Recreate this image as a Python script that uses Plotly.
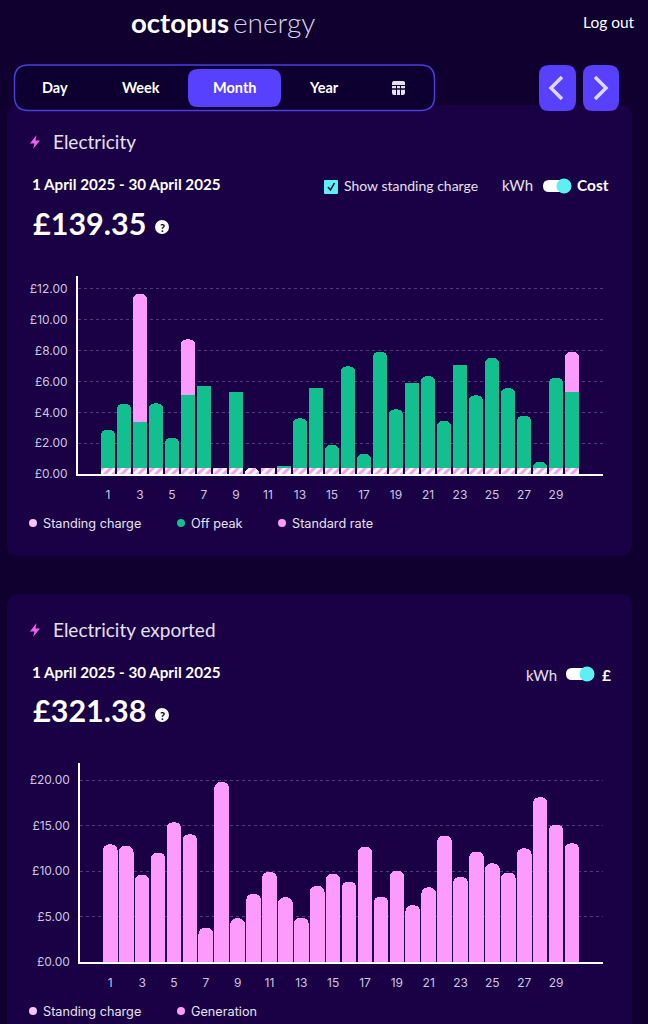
import plotly.graph_objects as go

W = 648
H = 1024

days = list(range(1, 31))
day_ticks = list(range(1, 30, 2))

# electricity cost, pounds per day
standing_charge = [0.39] * 30
off_peak = [2.49, 4.17, 2.96, 4.19, 1.97, 4.71, 5.30, 0, 4.95, 0,
            0, 0.15, 3.22, 5.19, 1.49, 6.59, 0.91, 7.55, 3.80, 5.53,
            5.95, 3.05, 6.66, 4.71, 7.13, 5.17, 3.39, 0.39, 5.86, 4.93]
standard_rate = [0, 0, 8.33, 0, 0, 3.63, 0, 0, 0, 0,
                 0, 0, 0, 0, 0, 0, 0, 0, 0, 0,
                 0, 0, 0, 0, 0, 0, 0, 0, 0, 2.59]
cost_ticks = [0, 2, 4, 6, 8, 10, 12]
cost_labels = ['£0.00', '£2.00', '£4.00', '£6.00', '£8.00', '£10.00', '£12.00']

# export, pounds per day
generation = [12.93, 12.75, 9.56, 12.00, 15.35, 14.03, 3.77, 19.78, 4.80, 7.47,
              9.89, 7.11, 4.87, 8.35, 9.67, 8.83, 12.64, 7.18, 10.00, 6.23,
              8.20, 13.88, 9.34, 12.12, 10.84, 9.82, 12.49, 18.10, 15.09, 13.04]
export_ticks = [0, 5, 10, 15, 20]
export_labels = ['£0.00', '£5.00', '£10.00', '£15.00', '£20.00']

# these days have square tops in the app, the rest are rounded
square_days = [7, 8, 9, 11, 12, 14, 20, 23]

PAGE = '#100030'
CARD = '#1a0044'
GREEN = '#12c08f'
PINK = '#fd9bfd'
WHITE = '#ffffff'
SOFT = '#e6e0f0'
TICK = '#cfc6e2'
CYAN = '#5cf0f5'
BLUE = '#5840ff'
FONT = 'Lato'
CHART_FONT = 'Inter'
RADIUS = 6


def px(x):
    return x / W


def py(y):
    return 1 - y / H


def rrect(x0, y0, x1, y1, r):
    return (f'M{px(x0 + r)},{py(y0)} L{px(x1 - r)},{py(y0)} Q{px(x1)},{py(y0)} {px(x1)},{py(y0 + r)} '
            f'L{px(x1)},{py(y1 - r)} Q{px(x1)},{py(y1)} {px(x1 - r)},{py(y1)} '
            f'L{px(x0 + r)},{py(y1)} Q{px(x0)},{py(y1)} {px(x0)},{py(y1 - r)} '
            f'L{px(x0)},{py(y0 + r)} Q{px(x0)},{py(y0)} {px(x0 + r)},{py(y0)} Z')


def box(x0, y0, x1, y1, r, fill, line=None, width=0):
    return dict(type='path', xref='paper', yref='paper', path=rrect(x0, y0, x1, y1, r), fillcolor=fill,
                line=dict(color=line or fill, width=width), layer='below')


def poly(points, fill=None, line=None, width=0, close=True):
    d = ' '.join(('M' if i == 0 else 'L') + f'{px(a)},{py(b)}' for i, (a, b) in enumerate(points))
    if close:
        d += ' Z'
    return dict(type='path', xref='paper', yref='paper', path=d, fillcolor=fill or 'rgba(0,0,0,0)',
                line=dict(color=line or 'rgba(0,0,0,0)', width=width), layer='above')


def dot(x, y, r, fill):
    return dict(type='circle', xref='paper', yref='paper', x0=px(x - r), x1=px(x + r), y0=py(y + r), y1=py(y - r),
                fillcolor=fill, line=dict(width=0), layer='above')


def txt(x, y, text, size, color=WHITE, anchor='left', weight=400, font=FONT):
    return dict(x=px(x), y=py(y), xref='paper', yref='paper', text=text, showarrow=False, xanchor=anchor,
                yanchor='middle', borderpad=0, font=dict(family=font, size=size, color=color, weight=weight))


def bolt(x, y):
    pts = [(x + 1.5, y - 7), (x - 5, y + 1.5), (x - 0.5, y + 1.5), (x - 2, y + 7), (x + 5, y - 1.5), (x + 0.5, y - 1.5)]
    return poly(pts, fill='#f060f0')


def toggle(x0, y):
    return [box(x0, y - 6, x0 + 28, y + 6, 6, WHITE), dot(x0 + 21, y, 7.5, CYAN)]


def keep(values, wanted):
    return [v if wanted(d) and v else None for d, v in zip(days, values)]


def is_square(d):
    return d in square_days


def is_round(d):
    return d not in square_days


fig = go.Figure()

hatch = dict(shape='/', fillmode='overlay', fgcolor='#ffffff', fgopacity=1, size=6, solidity=0.5)

# plotly uses one corner radius per stack, so the square topped days get their own overlaid axes
fig.add_bar(x=days, y=keep(standing_charge, is_round), name='Standing charge',
            marker=dict(color='#f29ff4', pattern=hatch, cornerradius=RADIUS, line_width=0))
fig.add_bar(x=days, y=keep(off_peak, is_round), name='Off peak', marker=dict(color=GREEN, line_width=0))
fig.add_bar(x=days, y=keep(standard_rate, is_round), name='Standard rate', marker=dict(color=PINK, line_width=0))
fig.add_bar(x=days, y=keep(standing_charge, is_square), name='Standing charge', xaxis='x3', yaxis='y3',
            marker=dict(color='#f29ff4', pattern=hatch, cornerradius=0, line_width=0))
fig.add_bar(x=days, y=keep(off_peak, is_square), name='Off peak', xaxis='x3', yaxis='y3',
            marker=dict(color=GREEN, line_width=0))
fig.add_bar(x=days, y=generation, name='Generation', xaxis='x2', yaxis='y2',
            marker=dict(color=PINK, cornerradius=RADIUS, line_width=0))

shapes = [
    box(7, 105, 632, 556, 12, CARD),
    box(7, 594, 632, 1040, 12, CARD),
    box(14.5, 65, 434.5, 110.5, 14, '#0d0030', '#4a3ee0', 1.5),
    box(188, 69, 281, 107, 10, BLUE),
    box(539, 65, 576, 111, 10, BLUE),
    box(583, 65, 619, 111, 10, BLUE),
    poly([(562, 77), (551, 88), (562, 99)], line='#dcd8ff', width=3.5, close=False),
    poly([(595, 77), (606, 88), (595, 99)], line='#dcd8ff', width=3.5, close=False),
    box(392, 81, 405, 95, 2, SOFT),
    poly([(392, 85.5), (405, 85.5)], line='#0d0030', width=1),
    poly([(392, 89), (405, 89)], line='#0d0030', width=1),
    poly([(396.5, 85.5), (396.5, 95)], line='#0d0030', width=1),
    poly([(400.5, 85.5), (400.5, 95)], line='#0d0030', width=1),
    bolt(35, 142),
    bolt(35, 630),
    box(324, 180, 338, 194, 1, CYAN),
    poly([(328, 187), (330.5, 190), (334.5, 183)], line='#100030', width=1.5, close=False),
    dot(162, 227, 7, WHITE),
    dot(162, 715, 7, WHITE),
    dot(33, 523, 4, '#f6c4f6'),
    dot(181, 523, 4, GREEN),
    dot(282, 523, 4, PINK),
    dot(33, 1011, 4, '#f6c4f6'),
    dot(181, 1011, 4, PINK),
] + toggle(543, 186) + toggle(566, 674)

notes = [
    txt(130, 22, 'octopus', 27.5, WHITE, weight=700),
    txt(232, 22, 'energy', 28, '#d8d4e8', weight=300),
    txt(636, 22, 'Log out', 15.5, WHITE, 'right'),
    txt(55, 87, 'Day', 14.5, WHITE, 'center', 700),
    txt(141, 87, 'Week', 14.5, WHITE, 'center', 700),
    txt(234.5, 87, 'Month', 14.5, WHITE, 'center', 700),
    txt(324, 87, 'Year', 14.5, WHITE, 'center', 700),
    txt(52, 141, 'Electricity', 19, SOFT),
    txt(31, 184, '1 April 2025 - 30 April 2025', 15.2, WHITE, weight=700),
    txt(32, 223, '£139.35', 30.5, WHITE, weight=700),
    txt(162, 227, '?', 11, PAGE, 'center', 900),
    txt(343, 185, 'Show standing charge', 14, SOFT),
    txt(501, 185, 'kWh', 15, SOFT),
    txt(576, 185, 'Cost', 15.5, WHITE, weight=700),
    txt(42, 523, 'Standing charge', 12.7, SOFT, font=CHART_FONT),
    txt(190, 523, 'Off peak', 12.7, SOFT, font=CHART_FONT),
    txt(291, 523, 'Standard rate', 12.7, SOFT, font=CHART_FONT),
    txt(52, 629, 'Electricity exported', 19, SOFT),
    txt(31, 672, '1 April 2025 - 30 April 2025', 15.2, WHITE, weight=700),
    txt(32, 710, '£321.38', 30.5, WHITE, weight=700),
    txt(162, 715, '?', 11, PAGE, 'center', 900),
    txt(525, 675, 'kWh', 15, SOFT),
    txt(601, 675, '£', 15.5, WHITE, weight=700),
    txt(42, 1011, 'Standing charge', 12.7, SOFT, font=CHART_FONT),
    txt(190, 1011, 'Generation', 12.7, SOFT, font=CHART_FONT),
]

tick_font = dict(family=CHART_FONT, size=12, color=TICK)
x_style = dict(tickmode='array', tickvals=day_ticks, ticks='outside', ticklen=9, tickcolor='rgba(0,0,0,0)',
               showgrid=False, showline=True, linecolor=WHITE, linewidth=2, tickfont=tick_font, zeroline=False)
y_style = dict(tickmode='array', ticks='outside', ticklen=6, tickcolor='rgba(0,0,0,0)', showgrid=True,
               gridcolor='#51397f', griddash='dot', gridwidth=1, showline=True, linecolor=WHITE, linewidth=2,
               tickfont=tick_font, zeroline=False)

fig.update_layout(
    width=W, height=H, autosize=False, margin=dict(l=0, r=0, t=0, b=0, pad=0, autoexpand=False), showlegend=False,
    paper_bgcolor=PAGE, plot_bgcolor='rgba(0,0,0,0)', barmode='stack', bargap=0.08,
    shapes=shapes, annotations=notes, hovermode=False,
    xaxis=dict(domain=[px(78), px(603)], range=[-0.875, 31.94], anchor='y', **x_style),
    yaxis=dict(domain=[py(474), py(276)], range=[0, 12.84], anchor='x', tickvals=cost_ticks,
               ticktext=cost_labels, **y_style),
    xaxis2=dict(domain=[px(80.3), px(603)], range=[-0.884, 31.95], anchor='y2', **x_style),
    yaxis2=dict(domain=[py(962), py(763)], range=[0, 21.87], anchor='x2', tickvals=export_ticks,
                ticktext=export_labels, **y_style),
    xaxis3=dict(matches='x', overlaying='x', visible=False, anchor='y3'),
    yaxis3=dict(matches='y', overlaying='y', visible=False, anchor='x3'),
)

fig.write_html("out.html", config={'displayModeBar': False},
               post_script="document.body.style.margin='0';document.body.style.overflow='hidden';")
